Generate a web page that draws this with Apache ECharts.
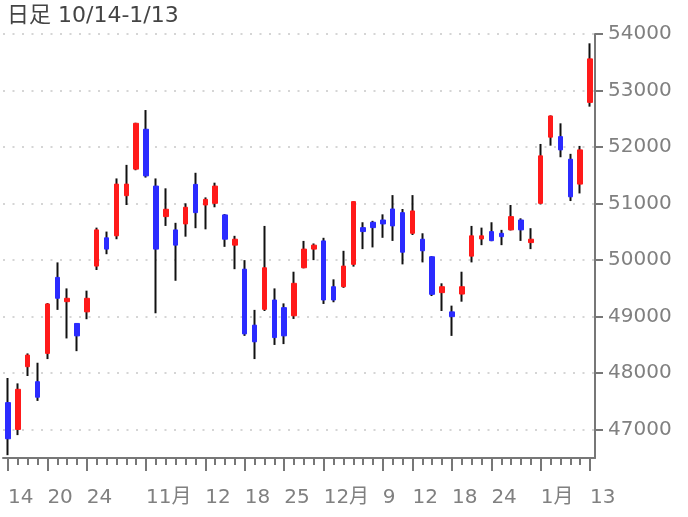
<!DOCTYPE html>
<html>
<head>
<meta charset="utf-8">
<script src="https://cdn.jsdelivr.net/npm/echarts@6/dist/echarts.min.js"></script>
<style>html,body{margin:0;padding:0;background:#fff}#c{width:688px;height:517px}</style>
</head>
<body>
<div id="c"></div>
<script>
const titleText = '日足 10/14-1/13';
const dates = ['10/14','10/15','10/16','10/17','10/20','10/21','10/22','10/23','10/24','10/27','10/28','10/29','10/30','10/31',
 '11/04','11/05','11/06','11/07','11/10','11/11','11/12','11/13','11/14','11/17','11/18','11/19','11/20','11/21','11/25','11/26','11/27','11/28',
 '12/01','12/02','12/03','12/04','12/05','12/08','12/09','12/10','12/11','12/12','12/15','12/16','12/17','12/18','12/19','12/22','12/23','12/24','12/25','12/26','12/29','12/30',
 '01/05','01/06','01/07','01/08','01/09','01/13'];
const opens  = [47480,47005,48115,47850,48350,49695,49265,48880,49085,49895,50395,50430,51140,51610,
 52315,51310,50770,50535,50640,51340,50975,51005,50800,50265,49840,48850,49130,49295,49160,49015,49865,50195,
 50340,49530,49530,49925,50575,50670,50710,50905,50840,50475,50370,50060,49425,49085,49400,50070,50375,50505,50475,50535,50710,50310,
 51005,52175,52185,51785,51345,52790];
const closes = [46840,47715,48320,47575,49225,49325,49325,48660,49325,50535,50195,51345,51345,52420,
 51490,50195,50900,50265,50935,50840,51075,51310,50370,50370,48695,48555,49865,48630,48660,49590,50195,50265,
 49295,49295,49895,51035,50505,50575,50640,50605,50140,50870,50165,49395,49530,49000,49530,50430,50430,50345,50415,50770,50535,50370,
 51845,52550,51950,51120,51950,53560];
const lows   = [46550,46905,47950,47510,48250,49120,48615,48390,48955,49825,50105,50370,50975,51590,
 51460,49060,50605,49635,50415,50565,50545,50935,50235,49840,48660,48250,49100,48500,48515,48960,49855,50000,
 49225,49255,49510,49885,50195,50225,50395,50340,49925,50445,49960,49365,49100,48660,49265,49960,50265,50335,50265,50525,50340,50195,
 50985,52025,51820,51045,51180,52715];
const highs  = [47915,47820,48350,48185,49240,49960,49500,48885,49460,50575,50505,51445,51685,52430,
 52655,51445,51270,50660,51005,51545,51110,51370,50815,50430,50000,49120,50605,49500,49235,49795,50340,50295,
 50395,49660,50165,51040,50670,50695,50810,51150,50905,51150,50475,50070,49590,49195,49795,50605,50575,50670,50535,50975,50740,50565,
 52055,52560,52420,51880,52020,53835];
const labelDates = ['10/14','10/20','10/24','11/04','11/12','11/18','11/25','12/01','12/09','12/12','12/18','12/24','01/05','01/13'];
const labelTexts = ['14','20','24','11月','12','18','25','12月','9','12','18','24','1月','13'];
const yTicks = [47000,48000,49000,50000,51000,52000,53000,54000];

const wickData = dates.map((d, i) => [opens[i], closes[i], lows[i], highs[i]]);
const bodyData = dates.map((d, i) => [opens[i], closes[i], Math.min(opens[i], closes[i]), Math.max(opens[i], closes[i])]);
const isLabeled = (idx, val) => labelDates.indexOf(val) >= 0;

const FONT = '"DejaVu Sans", "Noto Sans CJK JP", sans-serif';
const AXIS = '#777';
const RED = '#ff1a1a', BLUE = '#2b2bff';

const chart = echarts.init(document.getElementById('c'), null, {renderer: 'canvas'});
chart.setOption({
  animation: false,
  backgroundColor: '#fff',
  title: {
    text: titleText, left: 2, top: 0,
    textStyle: {fontSize: 22, fontWeight: 'normal', color: '#444', fontFamily: FONT}
  },
  grid: {left: 3, right: 93, top: 34, bottom: 59, containLabel: false, outerBoundsMode: 'none'},
  xAxis: [{
    type: 'category', data: dates, boundaryGap: true, position: 'bottom',
    axisLine: {show: true, lineStyle: {color: AXIS, width: 2}},
    axisTick: {show: true, alignWithLabel: true, interval: isLabeled, length: 13, lineStyle: {color: AXIS, width: 2}},
    axisLabel: {
      show: true, interval: isLabeled, align: 'left', margin: 30,
      fontSize: 20, color: '#808080', fontFamily: FONT,
      formatter: (val) => { const k = labelDates.indexOf(val); return k >= 0 ? labelTexts[k] : ''; }
    },
    splitLine: {show: false}
  }, {
    type: 'category', data: dates, boundaryGap: true, position: 'bottom', offset: 0,
    axisLine: {show: false},
    axisTick: {show: true, alignWithLabel: true, interval: 0, length: 7, lineStyle: {color: AXIS, width: 2}},
    axisLabel: {show: false},
    splitLine: {show: false}
  }],
  yAxis: {
    type: 'value', position: 'right', min: 46500, max: 54000, splitNumber: 7, scale: true,
    axisLine: {show: true, lineStyle: {color: AXIS, width: 2}},
    axisTick: {show: true, length: 8, customValues: yTicks, lineStyle: {color: AXIS, width: 2}},
    axisLabel: {show: true, margin: 13, customValues: yTicks, fontSize: 20, color: '#808080', fontFamily: FONT,
      formatter: (v) => String(v)},
    splitLine: {show: true, lineStyle: {color: '#c8c8c8', width: 1.5, type: [2, 7.5]}}
  },
  series: [{
    type: 'candlestick', name: 'wick', xAxisIndex: 0, data: wickData, barWidth: 1,
    itemStyle: {color: '#111', color0: '#111', borderColor: '#111', borderColor0: '#111', borderWidth: 2},
    emphasis: {disabled: true}
  }, {
    type: 'candlestick', name: 'body', xAxisIndex: 0, data: bodyData, barWidth: 5,
    itemStyle: {color: RED, color0: BLUE, borderColor: RED, borderColor0: BLUE, borderWidth: 1},
    emphasis: {disabled: true}
  }]
});
</script>
</body>
</html>
